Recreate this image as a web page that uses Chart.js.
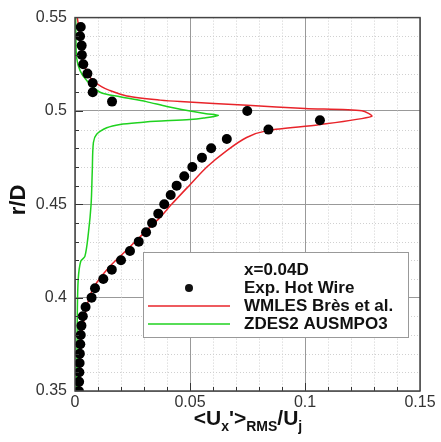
<!DOCTYPE html>
<html>
<head>
<meta charset="utf-8">
<script src="https://cdn.jsdelivr.net/npm/chart.js@4"></script>
<style>
  html, body { margin: 0; padding: 0; background: #fff; }
  #wrap { width: 441px; height: 442px; position: relative; }
</style>
</head>
<body>
<div id="wrap"><canvas id="chart"></canvas></div>
<script>
// experiment (hot wire), r/D and <Ux'>rms/Uj
const expR = [0.545, 0.54, 0.535, 0.53, 0.525, 0.52, 0.515, 0.51, 0.505, 0.5,
  0.495, 0.49, 0.485, 0.48, 0.475, 0.47, 0.465, 0.46, 0.455, 0.45,
  0.445, 0.44, 0.435, 0.43, 0.425, 0.42, 0.415, 0.41, 0.405, 0.4,
  0.395, 0.39, 0.385, 0.38, 0.375, 0.37, 0.365, 0.36, 0.355, 0.35];
const expU = [0.0025, 0.0022, 0.0029, 0.003, 0.0036, 0.0054, 0.0077, 0.0077, 0.0161, 0.0749,
  0.1065, 0.0841, 0.066, 0.0592, 0.0552, 0.051, 0.0475, 0.0442, 0.0416, 0.0388,
  0.0362, 0.0335, 0.0309, 0.0277, 0.0239, 0.02, 0.016, 0.0123, 0.0087, 0.0072,
  0.0046, 0.0034, 0.0028, 0.0025, 0.0023, 0.0021, 0.002, 0.0019, 0.0018, 0.0017];

// WMLES Bres et al.
const wmR = [0.55, 0.545, 0.54, 0.535, 0.53, 0.525, 0.52, 0.516, 0.513, 0.511,
  0.508, 0.5058, 0.505, 0.5031, 0.5013, 0.5001, 0.4971, 0.4926, 0.4896,
  0.4858, 0.4788, 0.47, 0.4605, 0.45, 0.443, 0.4343, 0.4255,
  0.4168, 0.408, 0.4011, 0.3907, 0.38, 0.3647, 0.35];
const wmU = [0.001, 0.0016, 0.0021, 0.0026, 0.0031, 0.004, 0.0055, 0.008, 0.0115, 0.015,
  0.0225, 0.037, 0.0457, 0.075, 0.1, 0.1247, 0.129, 0.106, 0.084,
  0.0746, 0.066, 0.0573, 0.05, 0.042, 0.037, 0.0297, 0.0225,
  0.0152, 0.0094, 0.0065, 0.0043, 0.0029, 0.0022, 0.0019];

// ZDES2 AUSMPO3
const zdR = [0.55, 0.54, 0.5285, 0.5216, 0.5163, 0.51, 0.5076, 0.505, 0.5024, 0.4997,
  0.4985, 0.4976, 0.4962, 0.4954, 0.4945, 0.494, 0.4928, 0.491, 0.4875, 0.4831,
  0.4674, 0.45, 0.4343, 0.4221, 0.4195, 0.4098, 0.3907, 0.35];
const zdU = [0.0003, 0.0004, 0.0007, 0.0022, 0.0051, 0.0109, 0.0196, 0.031, 0.0399, 0.0514,
  0.057, 0.0623, 0.056, 0.05, 0.035, 0.0297, 0.0196, 0.0138, 0.0094, 0.008,
  0.0075, 0.007, 0.0058, 0.0043, 0.0025, 0.0014, 0.001, 0.0007];

const xTicks = [0, 0.05, 0.1, 0.15];
const xTickLabels = ["0", "0.05", "0.1", "0.15"];
const yTicks = [0.35, 0.4, 0.45, 0.5, 0.55];
const yTickLabels = ["0.35", "0.4", "0.45", "0.5", "0.55"];
const legendTitle = "x=0.04D";
const seriesNames = ["Exp. Hot Wire", "WMLES Brès et al.", "ZDES2 AUSMPO3"];

const RED = "#e8242a";
const GREEN = "#1fd21f";

const pts = (r, u) => r.map((v, i) => ({ x: u[i], y: v }));

// minor grid, inward ticks, frame
const frame = {
  id: "frame",
  beforeDatasetsDraw(c) {
    const { ctx, chartArea: a } = c;
    const xs = c.scales.x, ys = c.scales.y;
    ctx.save();
    ctx.strokeStyle = "#d0d0d0";
    ctx.lineWidth = 1;
    ctx.setLineDash([1, 2]);
    for (let i = 1; i < 15; i++) {
      if (i % 5 === 0) continue;
      const x = Math.round(xs.getPixelForValue(i * 0.01)) + 0.5;
      ctx.beginPath(); ctx.moveTo(x, a.top); ctx.lineTo(x, a.bottom); ctx.stroke();
    }
    for (let i = 1; i < 20; i++) {
      if (i % 5 === 0) continue;
      const y = Math.round(ys.getPixelForValue(0.35 + i * 0.01)) + 0.5;
      ctx.beginPath(); ctx.moveTo(a.left, y); ctx.lineTo(a.right, y); ctx.stroke();
    }
    ctx.restore();
  },
  afterDatasetsDraw(c) {
    const { ctx, chartArea: a } = c;
    const xs = c.scales.x, ys = c.scales.y;
    ctx.save();
    ctx.strokeStyle = "#333";
    ctx.lineWidth = 1;
    for (let i = 1; i < 15; i++) {
      const x = Math.round(xs.getPixelForValue(i * 0.01)) + 0.5;
      const l = i % 5 === 0 ? 8 : 4;
      ctx.beginPath(); ctx.moveTo(x, a.bottom); ctx.lineTo(x, a.bottom - l); ctx.stroke();
    }
    for (let i = 1; i < 20; i++) {
      const y = Math.round(ys.getPixelForValue(0.35 + i * 0.01)) + 0.5;
      const l = i % 5 === 0 ? 8 : 4;
      ctx.beginPath(); ctx.moveTo(a.left, y); ctx.lineTo(a.left + l, y); ctx.stroke();
    }
    ctx.strokeStyle = "#444";
    ctx.lineWidth = 1.5;
    ctx.strokeRect(a.left, a.top, a.right - a.left, a.bottom - a.top);
    ctx.restore();
  },
};

// axis titles and boxed legend
const annot = {
  id: "annot",
  afterDraw(c) {
    const ctx = c.ctx;
    ctx.save();
    ctx.fillStyle = "#111";

    // r/D
    ctx.save();
    ctx.translate(25, 200);
    ctx.rotate(-Math.PI / 2);
    ctx.font = "bold 22px 'Liberation Sans', Arial, sans-serif";
    ctx.textAlign = "center";
    ctx.textBaseline = "alphabetic";
    ctx.fillText("r/D", 0, 0);
    ctx.restore();

    // <Ux'>RMS/Uj
    const big = "bold 21px 'Liberation Sans', Arial, sans-serif";
    const sml = "bold 14px 'Liberation Sans', Arial, sans-serif";
    const parts = [
      ["<U", big, 0], ["x", sml, 6], ["'", big, 0], [">", big, 0],
      ["RMS", sml, 6], ["/U", big, 0], ["j", sml, 6],
    ];
    let w = 0;
    parts.forEach(p => { ctx.font = p[1]; w += ctx.measureText(p[0]).width; });
    let x = 248 - w / 2;
    const base = 425;
    ctx.textAlign = "left";
    parts.forEach(p => {
      ctx.font = p[1];
      ctx.fillText(p[0], x, base + p[2]);
      x += ctx.measureText(p[0]).width;
    });

    // legend
    const lx = 143, ly = 252, lw = 265, lh = 85;
    ctx.fillStyle = "#fff";
    ctx.fillRect(lx, ly, lw, lh);
    ctx.strokeStyle = "#999";
    ctx.lineWidth = 1;
    ctx.strokeRect(lx + 0.5, ly + 0.5, lw, lh);
    ctx.font = "bold 17px 'Liberation Sans', Arial, sans-serif";
    ctx.textBaseline = "middle";
    ctx.fillStyle = "#111";
    const tx = 244;
    ctx.fillText(legendTitle, tx, 270);
    ctx.fillText(seriesNames[0], tx, 288);
    ctx.fillText(seriesNames[1], tx, 306);
    ctx.fillText(seriesNames[2], tx, 324);
    ctx.beginPath();
    ctx.arc(189, 288, 4, 0, Math.PI * 2);
    ctx.fill();
    ctx.lineWidth = 1.5;
    ctx.strokeStyle = RED;
    ctx.beginPath(); ctx.moveTo(148, 306); ctx.lineTo(230, 306); ctx.stroke();
    ctx.strokeStyle = GREEN;
    ctx.beginPath(); ctx.moveTo(148, 324); ctx.lineTo(230, 324); ctx.stroke();
    ctx.restore();
  },
};

const tickFont = { family: "'Liberation Sans', Arial, sans-serif", size: 16 };

new Chart(document.getElementById("chart"), {
  type: "scatter",
  data: {
    datasets: [
      {
        label: seriesNames[0],
        data: pts(expR, expU),
        pointRadius: 5,
        pointBorderWidth: 0,
        pointBackgroundColor: "#000",
        pointBorderColor: "#000",
        showLine: false,
      },
      {
        label: seriesNames[1],
        data: pts(wmR, wmU),
        showLine: true,
        borderColor: RED,
        borderWidth: 1.5,
        pointRadius: 0,
        tension: 0.25,
      },
      {
        label: seriesNames[2],
        data: pts(zdR, zdU),
        showLine: true,
        borderColor: GREEN,
        borderWidth: 1.5,
        pointRadius: 0,
        tension: 0.3,
      },
    ],
  },
  options: {
    responsive: true,
    maintainAspectRatio: false,
    animation: false,
    layout: { padding: { top: 9, right: 21, left: 0, bottom: 0 } },
    plugins: { legend: { display: false }, tooltip: { enabled: false } },
    scales: {
      x: {
        type: "linear",
        min: 0,
        max: 0.15,
        afterBuildTicks: (s) => { s.ticks = xTicks.map(v => ({ value: v })); },
        afterFit: (s) => { s.height = 51; },
        ticks: {
          callback: (v) => xTickLabels[xTicks.indexOf(v)],
          font: tickFont,
          color: "#333",
          padding: 2,
          maxRotation: 0,
        },
        grid: { color: "#999", lineWidth: 1, drawTicks: false },
        border: { display: false },
      },
      y: {
        type: "linear",
        min: 0.35,
        max: 0.55,
        afterBuildTicks: (s) => { s.ticks = yTicks.map(v => ({ value: v })); },
        afterFit: (s) => { s.width = 75; },
        ticks: {
          callback: (v) => yTickLabels[yTicks.indexOf(v)],
          font: tickFont,
          color: "#333",
          padding: 8,
        },
        grid: { color: "#999", lineWidth: 1, drawTicks: false },
        border: { display: false },
      },
    },
  },
  plugins: [frame, annot],
});
</script>
</body>
</html>
